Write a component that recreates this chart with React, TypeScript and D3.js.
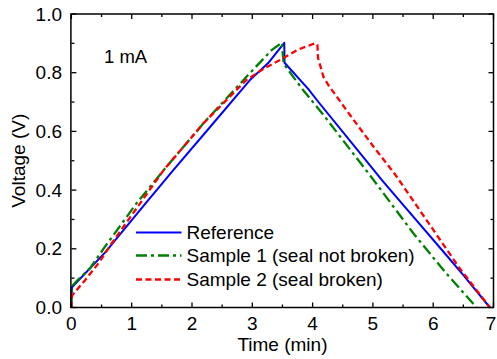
import React from 'react';
import * as d3 from 'd3';

// Time (min) / Voltage (V) series
const referenceData: [number, number][] = [
  [0, 0], [0, 0.04], [0.01, 0.069], [0.56, 0.188], [1.23, 0.355], [1.69, 0.468],
  [2.3, 0.615], [2.96, 0.775], [3.26, 0.832], [3.53, 0.902], [3.535, 0.834],
  [3.93, 0.744], [4.07, 0.707], [4.79, 0.525], [5.15, 0.434], [5.48, 0.355],
  [6.17, 0.19], [6.5, 0.11], [6.94, 0],
];
const sample1Data: [number, number][] = [
  [0, 0], [0, 0.05], [0.01, 0.073], [0.12, 0.097], [0.31, 0.134], [0.56, 0.208],
  [1.08, 0.355], [1.53, 0.468], [2.2, 0.63], [2.93, 0.792], [3.32, 0.877],
  [3.49, 0.902], [3.52, 0.83], [3.82, 0.747], [4.18, 0.656], [4.95, 0.451],
  [5.67, 0.253], [6.2, 0.12], [6.72, 0],
];
const sample2Data: [number, number][] = [
  [0, 0], [0, 0.03], [0.02, 0.043], [0.23, 0.094], [0.45, 0.151], [0.67, 0.219],
  [1.14, 0.355], [1.53, 0.468], [2.2, 0.63], [2.9, 0.775], [3.2, 0.815],
  [3.5, 0.848], [3.75, 0.878], [4.04, 0.9], [4.08, 0.895], [4.09, 0.85],
  [4.18, 0.786], [4.26, 0.758], [4.62, 0.656], [5.01, 0.548], [5.37, 0.453],
  [6.06, 0.247], [6.42, 0.139], [6.94, 0],
];

const seriesNames = ['Reference', 'Sample 1 (seal not broken)', 'Sample 2 (seal broken)'];
const seriesColors = ['#0000ff', '#008000', '#ff0000'];
const seriesDash = ['none', '11,4,3,4', '6,3.5'];

const xMajorTicks = [0, 1, 2, 3, 4, 5, 6, 7];
const yMajorTicks = [0, 0.2, 0.4, 0.6, 0.8, 1.0];
const xMinorTicks = [0.5, 1.5, 2.5, 3.5, 4.5, 5.5, 6.5];
const yMinorTicks = [0.1, 0.3, 0.5, 0.7, 0.9];

const annotation = '1 mA';
const xLabel = 'Time (min)';
const yLabel = 'Voltage (V)';

const W = 497;
const H = 359;
const L = 71.4, R = 493.5, T = 14, B = 307.5;
const FONT = 'Arial, "Liberation Sans", sans-serif';

export default function App() {
  const x = d3.scaleLinear().domain([0, 7]).range([L, R]);
  const y = d3.scaleLinear().domain([0, 1]).range([B, T]);
  const line = d3.line<[number, number]>().x(d => x(d[0])).y(d => y(d[1]));
  const allData = [referenceData, sample1Data, sample2Data];
  const majorLen = 5, minorLen = 3;
  const legendY = [232.5, 255.5, 279.5];

  return (
    <svg width={W} height={H} style={{ position: 'absolute', left: 0, top: 0, background: '#fff' }}
      fontFamily={FONT}>
      <rect x={0} y={0} width={W} height={H} fill="#fff" />
      {/* data lines */}
      {allData.map((d, i) => (
        <path key={i} d={line(d) || ''} fill="none" stroke={seriesColors[i]}
          strokeWidth={i === 0 ? 2 : 2.3} strokeDasharray={seriesDash[i]} strokeLinejoin="round" />
      ))}
      {/* frame */}
      <rect x={x(0) - 0.5} y={T} width={x(7) - x(0) + 0.5} height={B - T} fill="none" stroke="#000" strokeWidth={1.5} />
      {/* x ticks bottom & top */}
      {xMajorTicks.map(t => (
        <g key={'xm' + t}>
          <line x1={x(t)} x2={x(t)} y1={B} y2={B - majorLen} stroke="#000" strokeWidth={1.3} />
          <line x1={x(t)} x2={x(t)} y1={T} y2={T + majorLen} stroke="#000" strokeWidth={1.3} />
          <text x={Math.min(x(t), W - 6)} y={330} textAnchor="middle" fontSize={19} fill="#000">{t}</text>
        </g>
      ))}
      {xMinorTicks.map(t => (
        <g key={'xn' + t}>
          <line x1={x(t)} x2={x(t)} y1={B} y2={B - minorLen} stroke="#000" strokeWidth={1.3} />
          <line x1={x(t)} x2={x(t)} y1={T} y2={T + minorLen} stroke="#000" strokeWidth={1.3} />
        </g>
      ))}
      {yMajorTicks.map(t => (
        <g key={'ym' + t}>
          <line x1={L} x2={L + majorLen} y1={y(t)} y2={y(t)} stroke="#000" strokeWidth={1.3} />
          <line x1={R} x2={R - majorLen} y1={y(t)} y2={y(t)} stroke="#000" strokeWidth={1.3} />
          <text x={62} y={y(t) + 6.5} textAnchor="end" fontSize={19} fill="#000">{d3.format('.1f')(t)}</text>
        </g>
      ))}
      {yMinorTicks.map(t => (
        <g key={'yn' + t}>
          <line x1={L} x2={L + minorLen} y1={y(t)} y2={y(t)} stroke="#000" strokeWidth={1.3} />
          <line x1={R} x2={R - minorLen} y1={y(t)} y2={y(t)} stroke="#000" strokeWidth={1.3} />
        </g>
      ))}
      {/* axis titles */}
      <text x={(L + R) / 2} y={350.5} textAnchor="middle" fontSize={19} fill="#000">{xLabel}</text>
      <text transform={`translate(24.5,${(T + B) / 2}) rotate(-90)`} textAnchor="middle" fontSize={19} fill="#000">{yLabel}</text>
      {/* annotation */}
      <text x={104} y={62.5} fontSize={18.5} fill="#000">{annotation}</text>
      {/* legend */}
      {seriesNames.map((n, i) => (
        <g key={'lg' + i}>
          <line x1={136} x2={181.5} y1={legendY[i]} y2={legendY[i]} stroke={seriesColors[i]}
            strokeWidth={i === 0 ? 2 : 2.3} strokeDasharray={seriesDash[i]} />
          <text x={186.5} y={legendY[i] + 6.5} fontSize={19} fill="#000">{n}</text>
        </g>
      ))}
    </svg>
  );
}
